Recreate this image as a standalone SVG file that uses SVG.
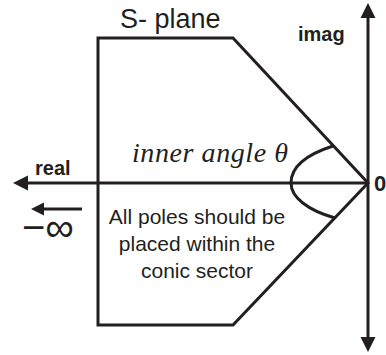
<svg xmlns="http://www.w3.org/2000/svg" width="386" height="355" viewBox="0 0 386 355">
<style>
.ln{fill:none;stroke:#231f20;stroke-width:3;stroke-linejoin:miter}
.ah{fill:#231f20;stroke:none}
.sans{font-family:"Liberation Sans",Arial,sans-serif;fill:#231f20}
.b{font-weight:bold}
</style>
<rect width="386" height="355" fill="#fff"/>
<g id="sector">
<path class="ln" d="M98,38 L233,38 L368,183 L233,325 L98,325 Z"/>
</g>
<g id="connectors">
<line class="ln" x1="368" y1="183" x2="368" y2="14"/>
<polygon class="ah" points="368,3 375.5,18 360.5,18"/>
<line class="ln" x1="368" y1="183" x2="368" y2="340"/>
<polygon class="ah" points="368,352 375.5,337 360.5,337"/>
<line class="ln" x1="368" y1="183" x2="25" y2="183"/>
<polygon class="ah" points="13,183 28,175.5 28,190.5"/>
<line class="ln" x1="82" y1="209" x2="42" y2="209"/>
<polygon class="ah" points="31,209 44,202.5 44,215.5"/>
<path class="ln" d="M333,146 C305,155 291,168 291,183 C291,197 307,210 335,218"/>
</g>
<g id="labels">
<text class="sans" x="120" y="28" font-size="27">S- plane</text>
<text class="sans b" x="298" y="41" font-size="20">imag</text>
<text class="sans b" x="35" y="175" font-size="20">real</text>
<text class="sans b" x="374" y="191" font-size="22">0</text>
<text x="132" y="162" font-family="'Liberation Serif','Times New Roman',serif" font-style="italic" font-size="28" fill="#231f20" textLength="156" lengthAdjust="spacing">inner angle θ</text>
<text class="sans" x="22" y="241" font-size="40">−∞</text>
<g text-anchor="middle" font-size="21">
<text class="sans" x="197" y="224">All poles should be</text>
<text class="sans" x="197" y="251">placed within the</text>
<text class="sans" x="197" y="278">conic sector</text>
</g>
</g>
</svg>
